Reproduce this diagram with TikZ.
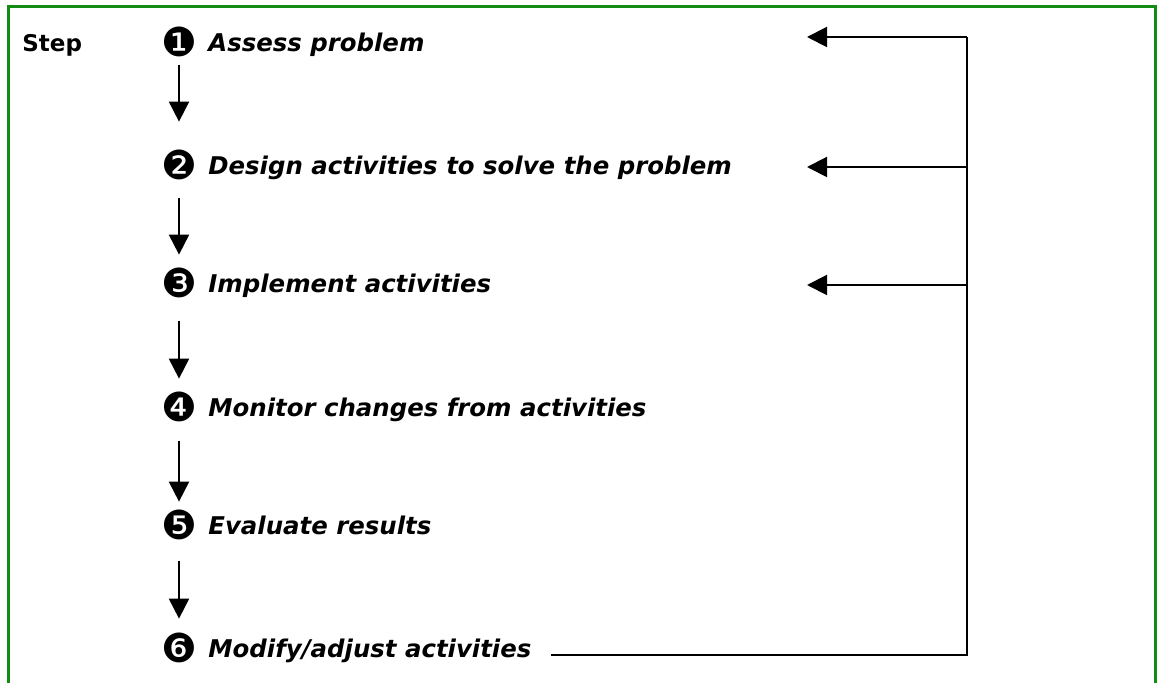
\documentclass[tikz,border=0pt]{standalone}
\usepackage{fontspec}
\setmainfont{DejaVu Sans}
\newfontfamily\dingfont{DejaVu Sans}
\usetikzlibrary{arrows.meta}
\definecolor{frame}{RGB}{20,140,20}
\begin{document}
\begin{tikzpicture}[x=0.5pt,y=-0.5pt,
  lbl/.style={anchor=base west,inner sep=0pt,font=\fontsize{12.2}{15}\selectfont\bfseries\itshape},
  num/.style={inner sep=0pt,font=\dingfont\fontsize{20}{22}\selectfont},
  flow/.style={-{Triangle[length=10pt,width=10pt]},line width=1pt},
  fb/.style={line width=1pt},
  fbarrow/.style={-{Triangle[length=10pt,width=10pt]},line width=1pt}]
\useasboundingbox (0,0) rectangle (1163,683);
\draw[frame,line width=1.5pt] (8,700) -- (8,7) -- (1155,7) -- (1155,700);
\node[anchor=base west,inner sep=0pt,font=\fontsize{11.5}{14}\selectfont\bfseries] (step) at (22,52) {Step};
% circled numbers
\node[num] (n1) at (179,42) {❶};
\node[num] (n2) at (179,165) {❷};
\node[num] (n3) at (179,283) {❸};
\node[num] (n4) at (179,407) {❹};
\node[num] (n5) at (179,525) {❺};
\node[num] (n6) at (179,648) {❻};
% labels
\node[lbl] (t1) at (208,52) {Assess problem};
\node[lbl] (t2) at (208,175) {Design activities to solve the problem};
\node[lbl] (t3) at (208,293) {Implement activities};
\node[lbl] (t4) at (208,417) {Monitor changes from activities};
\node[lbl] (t5) at (208,535) {Evaluate results};
\node[lbl] (t6) at (208,658) {Modify/adjust activities};
% flow arrows
\draw[flow,shorten <=4pt,shorten >=14pt] (n1.south) -- (n2.north);
\draw[flow,shorten <=9pt,shorten >=6.5pt] (n2.south) -- (n3.north);
\draw[flow,shorten <=11.5pt,shorten >=6.5pt] (n3.south) -- (n4.north);
\draw[flow,shorten <=9.5pt,shorten >=4pt] (n4.south) -- (n5.north);
\draw[flow,shorten <=10.5pt,shorten >=7pt] (n5.south) -- (n6.north);
% feedback
\coordinate (r1) at (967,37);
\coordinate (r2) at (967,167);
\coordinate (r3) at (967,285);
\coordinate (r6) at (967,655);
\coordinate (a1) at (807,37);
\coordinate (a2) at (807,167);
\coordinate (a3) at (807,285);
\coordinate (b6) at (551,655);
\draw[fb] (b6) -- (r6) -- (r1);
\draw[fbarrow] (r1) -- (a1);
\draw[fbarrow] (r2) -- (a2);
\draw[fbarrow] (r3) -- (a3);
\end{tikzpicture}
\end{document}
